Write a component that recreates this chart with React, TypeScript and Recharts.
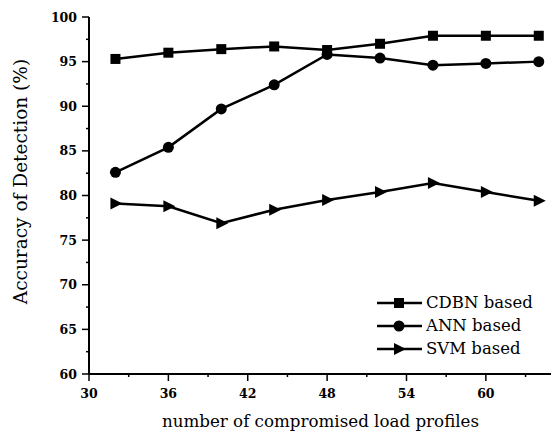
import React from 'react'
import { LineChart, Line, XAxis, YAxis, Legend } from 'recharts'

const profiles = [32, 36, 40, 44, 48, 52, 56, 60, 64]
const cdbnAccuracy = [95.3, 96.0, 96.4, 96.7, 96.3, 97.0, 97.9, 97.9, 97.9]
const annAccuracy = [82.6, 85.4, 89.7, 92.4, 95.8, 95.4, 94.6, 94.8, 95.0]
const svmAccuracy = [79.1, 78.8, 76.9, 78.4, 79.5, 80.4, 81.4, 80.4, 79.4]

const xTicks = [30, 33, 36, 39, 42, 45, 48, 51, 54, 57, 60, 63]
const xMajor = [30, 36, 42, 48, 54, 60]
const yTicks = [60, 62.5, 65, 67.5, 70, 72.5, 75, 77.5, 80, 82.5, 85, 87.5, 90, 92.5, 95, 97.5, 100]
const yMajor = [60, 65, 70, 75, 80, 85, 90, 95, 100]

const seriesNames = ['CDBN based', 'ANN based', 'SVM based']
const seriesKeys = ['cdbn', 'ann', 'svm']
const seriesShapes = ['square', 'circle', 'triangle']

const xLabel = 'number of compromised load profiles'
const yLabel = 'Accuracy of Detection (%)'

const data = profiles.map((p, i) => ({
  profiles: p,
  cdbn: cdbnAccuracy[i],
  ann: annAccuracy[i],
  svm: svmAccuracy[i],
}))

// only serif face that is really available in the sandbox
const FONT = '"DejaVu Serif", serif'

function Marker({ shape, cx, cy }: { shape: string; cx: number; cy: number }) {
  if (shape === 'square') return <rect x={cx - 5} y={cy - 5} width={10} height={10} fill="#000" />
  if (shape === 'circle') return <circle cx={cx} cy={cy} r={5.5} fill="#000" />
  return <polygon points={`${cx - 5},${cy - 6} ${cx + 7},${cy} ${cx - 5},${cy + 6}`} fill="#000" />
}

const dotFor = (shape: string) => (props: any) => {
  const { cx, cy, index } = props
  if (cx == null || cy == null) return <g key={index} />
  return <Marker key={index} shape={shape} cx={cx} cy={cy} />
}

function BottomTick(props: any) {
  const { x, y, payload } = props
  const major = xMajor.includes(payload.value)
  return (
    <g>
      <line x1={x} y1={y} x2={x} y2={y + (major ? 7 : 3)} stroke="#000" strokeWidth={1.5} />
      {major && (
        <text x={x} y={y + 23.5} textAnchor="middle" style={{ fontFamily: FONT }} fontWeight="bold" fontSize={12.5} fill="#000">
          {payload.value}
        </text>
      )}
    </g>
  )
}

function TopTick(props: any) {
  const { x, y, payload } = props
  const major = xMajor.includes(payload.value)
  return <line x1={x} y1={y} x2={x} y2={y + (major ? 7 : 4)} stroke="#000" strokeWidth={1.5} />
}

function LeftTick(props: any) {
  const { x, y, payload } = props
  const major = yMajor.includes(payload.value)
  return (
    <g>
      <line x1={x} y1={y} x2={x - (major ? 7 : 3)} y2={y} stroke="#000" strokeWidth={1.5} />
      {major && (
        <text x={x - 12} y={y + 4.5} textAnchor="end" style={{ fontFamily: FONT }} fontWeight="bold" fontSize={12.5} fill="#000">
          {payload.value}
        </text>
      )}
    </g>
  )
}

function RightTick(props: any) {
  const { x, y, payload } = props
  const major = yMajor.includes(payload.value)
  return <line x1={x} y1={y} x2={x - (major ? 7 : 4)} y2={y} stroke="#000" strokeWidth={1.5} />
}

function XTitle(props: any) {
  const { viewBox } = props
  const cx = viewBox.x + viewBox.width / 2
  return (
    <text x={cx} y={viewBox.y + 53} textAnchor="middle" style={{ fontFamily: FONT }} fontSize={16.7} fill="#000">
      {xLabel}
    </text>
  )
}

function YTitle(props: any) {
  const { viewBox } = props
  const cx = viewBox.x + 27
  const cy = viewBox.y + viewBox.height / 2 - 14
  return (
    <text x={cx} y={cy} transform={`rotate(-90 ${cx} ${cy})`} textAnchor="middle" style={{ fontFamily: FONT }} fontSize={18.5} fill="#000">
      {yLabel}
    </text>
  )
}

function LegendBox() {
  return (
    <div style={{ fontFamily: FONT, fontSize: 16.5, color: '#000', lineHeight: '23px' }}>
      {seriesNames.map((name, i) => (
        <div key={name} style={{ display: 'flex', alignItems: 'center', height: 23 }}>
          <svg width={48} height={16} style={{ marginRight: 2 }}>
            <line x1={1} y1={8} x2={46} y2={8} stroke="#000" strokeWidth={2.5} />
            <Marker shape={seriesShapes[i]} cx={23} cy={8} />
          </svg>
          <span>{name}</span>
        </div>
      ))}
    </div>
  )
}

export default function App() {
  return (
    <div style={{ position: 'absolute', left: 0, top: 0, width: 551, height: 433, overflow: 'hidden', background: '#fff' }}>
      <LineChart width={556} height={433} data={data} margin={{ top: 17, right: 4, bottom: 0, left: 0 }}>
        <XAxis
          xAxisId="bottom"
          dataKey="profiles"
          type="number"
          domain={[30, 65]}
          ticks={xTicks}
          interval={0}
          height={59}
          tickSize={0}
          tickMargin={0}
          tickLine={false}
          axisLine={{ stroke: '#000', strokeWidth: 2 }}
          tick={<BottomTick />}
          label={<XTitle />}
        />
        <XAxis
          xAxisId="top"
          orientation="top"
          dataKey="profiles"
          type="number"
          domain={[30, 65]}
          ticks={xTicks}
          interval={0}
          height={0}
          tickSize={0}
          tickMargin={0}
          tickLine={false}
          axisLine={{ stroke: '#000', strokeWidth: 2 }}
          tick={<TopTick />}
        />
        <YAxis
          yAxisId="left"
          type="number"
          domain={[60, 100]}
          ticks={yTicks}
          interval={0}
          width={89}
          tickSize={0}
          tickMargin={0}
          tickLine={false}
          axisLine={{ stroke: '#000', strokeWidth: 2 }}
          tick={<LeftTick />}
          label={<YTitle />}
        />
        <YAxis
          yAxisId="right"
          orientation="right"
          type="number"
          domain={[60, 100]}
          ticks={yTicks}
          interval={0}
          width={0}
          tickSize={0}
          tickMargin={0}
          tickLine={false}
          axisLine={{ stroke: '#000', strokeWidth: 2 }}
          tick={<RightTick />}
        />
        <Legend
          layout="horizontal"
          align="center"
          verticalAlign="middle"
          content={<LegendBox />}
          wrapperStyle={{ left: 376, top: 291, width: 'auto', height: 'auto' }}
        />
        {seriesKeys.map((key, i) => (
          <Line
            key={key}
            xAxisId="bottom"
            yAxisId="left"
            dataKey={key}
            name={seriesNames[i]}
            stroke="#000"
            strokeWidth={2.5}
            dot={dotFor(seriesShapes[i])}
            activeDot={false}
            isAnimationActive={false}
          />
        ))}
      </LineChart>
    </div>
  )
}
